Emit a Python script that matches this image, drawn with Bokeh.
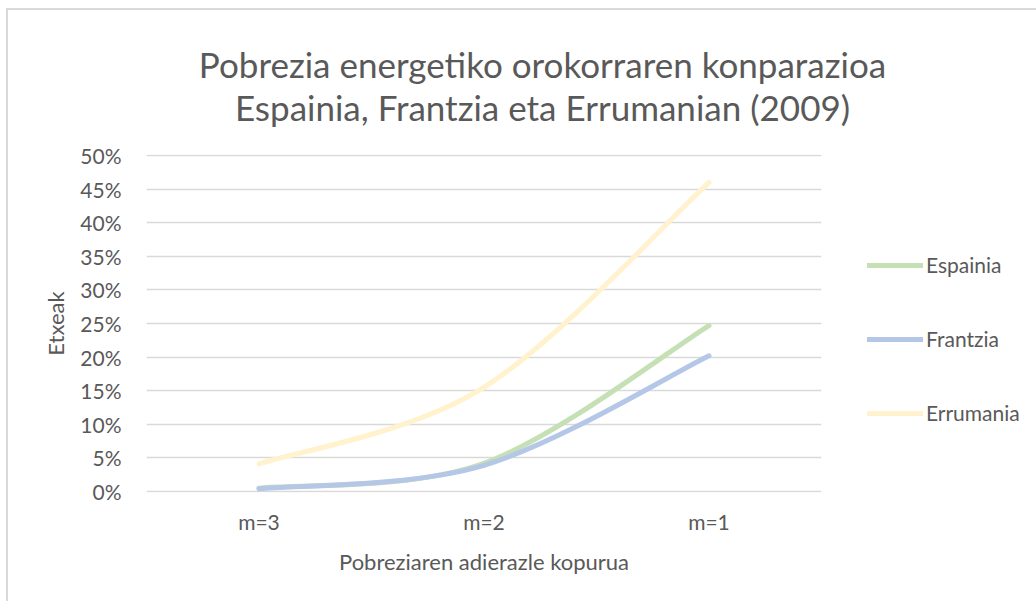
from bokeh.plotting import figure
from bokeh.models import (Range1d, FixedTicker, NumeralTickFormatter, Label,
                          Legend, LegendItem, ColumnDataSource)
from bokeh.embed import file_html
from bokeh.resources import INLINE

# ---------------- data ----------------
categories = ["m=3", "m=2", "m=1"]
espainia = [0.005, 0.042, 0.247]
frantzia = [0.004, 0.039, 0.202]
errumania = [0.041, 0.155, 0.460]
series_names = ["Espainia", "Frantzia", "Errumania"]
y_ticks = [0.0, 0.05, 0.10, 0.15, 0.20, 0.25, 0.30, 0.35, 0.40, 0.45, 0.50]

title_lines = ["Pobrezia energetiko orokorraren konparazioa",
               "Espainia, Frantzia eta Errumanian (2009)"]
x_title = "Pobreziaren adierazle kopurua"
y_title = "Etxeak"

# ---------------- style ----------------
FONT = "Lato"
TXT = "#595959"
GRID = "#d9d9d9"
colors = ["#c5e0b4", "#b4c7e7", "#fff2cc"]

FL, FW = 138, 675
FT, FH = 144, 338
FR, FB = 213, 109

p = figure(frame_width=FW, frame_height=FH, output_backend="svg",
           toolbar_location=None,
           x_range=Range1d(0, len(categories)), y_range=Range1d(-0.0015, 0.5015),
           min_border_left=FL, min_border_right=FR,
           min_border_top=FT, min_border_bottom=FB)
p.title.visible = False
p.outline_line_color = None
p.background_fill_color = "white"
p.border_fill_color = "white"
p.styles = {"border-left": "2px solid #d9d9d9", "border-top": "2px solid #d9d9d9",
            "margin-left": "6px", "margin-top": "8px"}

xs = [i + 0.5 for i in range(len(categories))]

# x axis
p.xaxis.ticker = FixedTicker(ticks=xs)
p.xaxis.major_label_overrides = {x: c for x, c in zip(xs, categories)}
p.xaxis.axis_line_color = None
p.xaxis.major_tick_line_color = None
p.xaxis.minor_tick_line_color = None
p.xaxis.major_label_standoff = 10
p.xaxis.major_label_text_font = FONT
p.xaxis.major_label_text_font_size = "21px"
p.xaxis.major_label_text_color = TXT
p.xaxis.axis_label = x_title
p.xaxis.axis_label_standoff = 11
p.xaxis.axis_label_text_font = FONT
p.xaxis.axis_label_text_font_size = "22px"
p.xaxis.axis_label_text_font_style = "normal"
p.xaxis.axis_label_text_color = TXT

# y axis
p.yaxis.ticker = FixedTicker(ticks=y_ticks)
p.yaxis.formatter = NumeralTickFormatter(format="0%")
p.yaxis.axis_line_color = None
p.yaxis.major_tick_line_color = None
p.yaxis.minor_tick_line_color = None
p.yaxis.major_label_standoff = 19
p.yaxis.major_label_text_font = FONT
p.yaxis.major_label_text_font_size = "21px"
p.yaxis.major_label_text_color = TXT
p.yaxis.axis_label = y_title
p.yaxis.axis_label_standoff = 8
p.yaxis.axis_label_text_font = FONT
p.yaxis.axis_label_text_font_size = "22px"
p.yaxis.axis_label_text_font_style = "normal"
p.yaxis.axis_label_text_color = TXT

p.xgrid.visible = False
p.ygrid.grid_line_color = GRID
p.ygrid.grid_line_width = 1.5


# smoothed lines (Catmull-Rom style Bezier control points from data)
def bezier_source(xv, yv):
    n = len(xv)
    d = dict(x0=[], y0=[], x1=[], y1=[], cx0=[], cy0=[], cx1=[], cy1=[])
    for i in range(n - 1):
        im1 = max(i - 1, 0)
        ip2 = min(i + 2, n - 1)
        d["x0"].append(xv[i]); d["y0"].append(yv[i])
        d["x1"].append(xv[i + 1]); d["y1"].append(yv[i + 1])
        d["cx0"].append(xv[i] + (xv[i + 1] - xv[im1]) / 6)
        d["cy0"].append(yv[i] + (yv[i + 1] - yv[im1]) / 6)
        d["cx1"].append(xv[i + 1] - (xv[ip2] - xv[i]) / 6)
        d["cy1"].append(yv[i + 1] - (yv[ip2] - yv[i]) / 6)
    return ColumnDataSource(d)


items = []
for name, vals, col in zip(series_names, [espainia, frantzia, errumania], colors):
    r = p.bezier(x0="x0", y0="y0", x1="x1", y1="y1", cx0="cx0", cy0="cy0",
                 cx1="cx1", cy1="cy1", source=bezier_source(xs, vals),
                 line_color=col, line_width=5, line_cap="round")
    items.append(LegendItem(label=name, renderers=[r]))

legend = Legend(items=items, location=(46, 67), orientation="vertical",
                glyph_width=56, glyph_height=20, label_height=20,
                label_standoff=3, spacing=49, padding=0, margin=0,
                border_line_color=None, background_fill_alpha=0,
                label_text_font=FONT, label_text_font_size="21px",
                label_text_color=TXT)
p.add_layout(legend, "right")

# titles as labels in the top panel (second line first, next to the plot area)
title_y = [49, 48]
for t, ty in reversed(list(zip(title_lines, title_y))):
    p.add_layout(Label(x=396, y=ty, x_units="screen", y_units="screen",
                       text=t, text_align="center", text_baseline="middle",
                       text_font=FONT, text_font_size="35px",
                       text_color=TXT), "above")

open("out.html", "w").write(file_html(p, INLINE))
